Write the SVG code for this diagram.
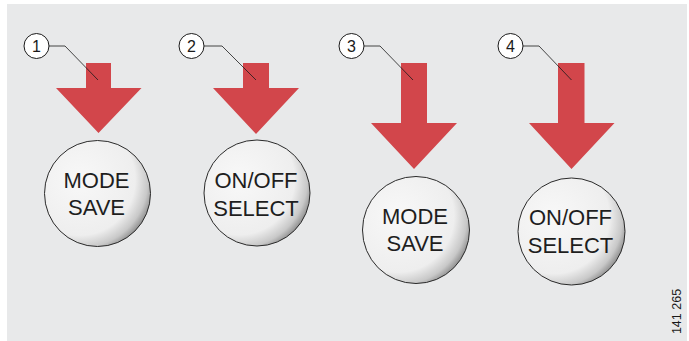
<svg xmlns="http://www.w3.org/2000/svg" width="689" height="341" viewBox="0 0 689 341">
<defs>
<radialGradient id="btn" cx="0.33" cy="0.37" r="0.75">
<stop offset="0" stop-color="#f8f8f8"/>
<stop offset="0.7" stop-color="#eeeeee"/>
<stop offset="0.86" stop-color="#c8c8c8"/>
<stop offset="1" stop-color="#727272"/>
</radialGradient>
<style>
.arrow{fill:#d2464b}
.btn{fill:url(#btn);stroke:#2a2a2a;stroke-width:1}
.lbl{font-family:"Liberation Sans",Arial,sans-serif;font-size:22px;fill:#1e1e1e;text-anchor:middle}
.co{fill:#fff;stroke:#1a1a1a;stroke-width:1}
.con{font-family:"Liberation Sans",Arial,sans-serif;font-size:16px;fill:#1a1a1a;text-anchor:middle}
.lead{fill:none;stroke:#1a1a1a;stroke-width:0.8}
</style>
</defs>
<rect x="7" y="4" width="680" height="337" fill="#e8e9ea"/>
<g id="arrow1"><polygon class="arrow" points="86,63 111,63 111,88 141.5,88 98.5,133 56,88 86,88"/></g>
<g id="arrow2"><polygon class="arrow" points="243,63 269,63 269,88 299,88 256,134 213,88 243,88"/></g>
<g id="arrow3"><polygon class="arrow" points="401,63 427,63 427,123 457,123 414,169 371,123 401,123"/></g>
<g id="arrow4"><polygon class="arrow" points="558,63 584.5,63 584.5,123 614.5,123 571.5,169 529,123 558,123"/></g>
<g id="connectors">
<polyline class="lead" points="49,46 65,46 98,80"/>
<polyline class="lead" points="204,46 222,46 256,80"/>
<polyline class="lead" points="364,46 380,46 413,80"/>
<polyline class="lead" points="523,46 539,46 571.5,80"/>
</g>
<g id="callout1"><circle class="co" cx="36.5" cy="46" r="12.5"/><text class="con" x="36.5" y="51.8">1</text></g>
<g id="callout2"><circle class="co" cx="191.5" cy="46" r="12.5"/><text class="con" x="191.5" y="51.8">2</text></g>
<g id="callout3"><circle class="co" cx="351.5" cy="46" r="12.5"/><text class="con" x="351.5" y="51.8">3</text></g>
<g id="callout4"><circle class="co" cx="510.5" cy="46" r="12.5"/><text class="con" x="510.5" y="51.8">4</text></g>
<g id="button1"><circle class="btn" cx="97.5" cy="193.5" r="53"/><text class="lbl" x="96.5" y="187.5">MODE</text><text class="lbl" x="96.5" y="215">SAVE</text></g>
<g id="button2"><circle class="btn" cx="257" cy="193" r="53"/><text class="lbl" x="256" y="187.5">ON/OFF</text><text class="lbl" x="256" y="215.5">SELECT</text></g>
<g id="button3"><circle class="btn" cx="416" cy="230" r="53.5"/><text class="lbl" x="415" y="223.5">MODE</text><text class="lbl" x="415" y="251">SAVE</text></g>
<g id="button4"><circle class="btn" cx="571.5" cy="231.5" r="53.5"/><text class="lbl" x="570.5" y="224.5">ON/OFF</text><text class="lbl" x="570.5" y="252.5">SELECT</text></g>
<text x="681" y="311.5" transform="rotate(-90 681 311.5)" font-family="'Liberation Sans',Arial,sans-serif" font-size="12.5" fill="#1a1a1a" text-anchor="middle">141 265</text>
</svg>
